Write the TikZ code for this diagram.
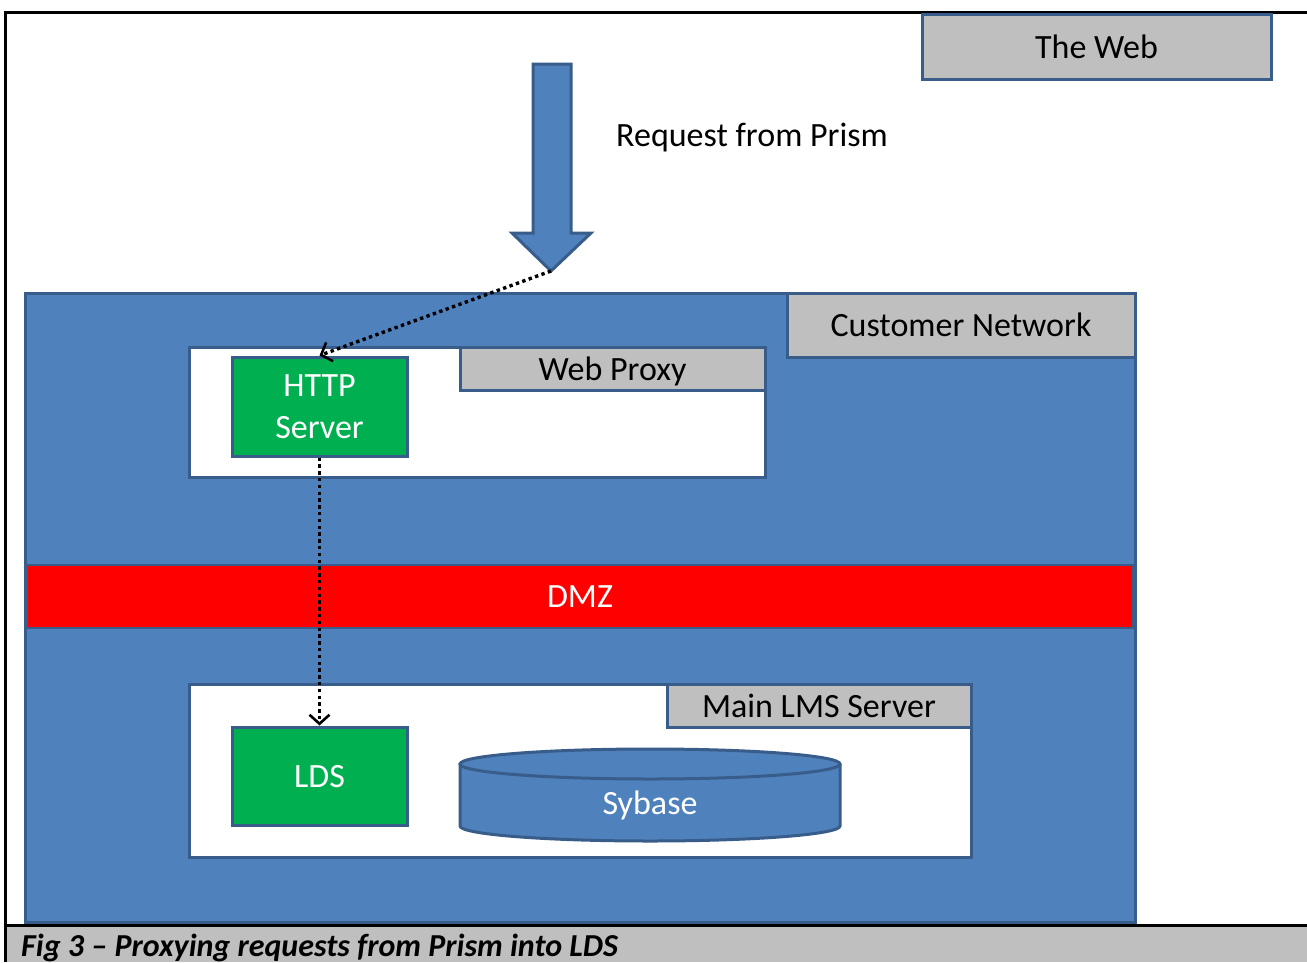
\documentclass[tikz,border=0pt]{standalone}
\usepackage{fontspec}
\setmainfont{Carlito}
\usetikzlibrary{arrows.meta}
\definecolor{bfill}{HTML}{4F81BD}
\definecolor{bline}{HTML}{385D8A}
\definecolor{gfill}{HTML}{BFBFBF}
\definecolor{grn}{HTML}{00B050}
\definecolor{dmzred}{HTML}{FF0000}
\begin{document}
\begin{tikzpicture}[x=1pt,y=-1pt,
  txt/.style={font=\fontsize{34}{42}\selectfont},
  box/.style={draw=bline, line width=3pt, inner sep=0pt, align=center, txt, text depth=0pt},
  graybox/.style={box, fill=gfill, text=black},
  whitebox/.style={box, fill=white},
  greenbox/.style={box, fill=grn, text=white},
  bluebox/.style={box, fill=bfill, text=white},
  flow/.style={draw=black, line width=3.4pt, dash pattern=on 3.4pt off 3.4pt,
     -{Straight Barb[length=9pt,width=20pt,line width=2.6pt]}},
  frame/.style={line width=3pt, draw=black}
]
\useasboundingbox (0,0) rectangle (1307,962);
% caption band
\fill[gfill] (5,925) rectangle (1307,962);
\node[anchor=west, inner sep=0pt, font=\bfseries\itshape\fontsize{32}{36}\selectfont] (cap) at (21,948) {Fig 3 – Proxying requests from Prism into LDS};
% frame
\draw[frame] (1307,12) -- (5,12) -- (5,962);
\draw[frame] (5,925) -- (1307,925);

% the web
\node[graybox, minimum width=349, minimum height=65] (web) at (1096.5,46.5) {The Web};

% big arrow
\filldraw[fill=bfill, draw=bline, line width=3pt, line join=miter]
  (533,64) -- (571,64) -- (571,233) -- (591,233) -- (551,271) -- (512,233) -- (533,233) -- cycle;
\coordinate (tip) at (551,271);
\node[anchor=west, inner sep=0pt, txt] (req) at (616,138) {Request from Prism};

% customer network
\node[bluebox, minimum width=1110, minimum height=629] (cust) at (580,607.5) {};
\node[graybox, minimum width=348, minimum height=64] (custlbl) at (961,325) {Customer Network};

% web proxy
\node[whitebox, minimum width=576, minimum height=130] (proxy) at (477,412) {};
\node[graybox, minimum width=305, minimum height=43] (proxylbl) at (612.5,368.5) {Web Proxy};
\node[greenbox, minimum width=175, minimum height=99] (http) at (319.5,406.5) {HTTP\\Server};

% DMZ
\node[box, fill=dmzred, text=white, line width=1.5pt, minimum width=1106, minimum height=63] (dmz) at (580,596.5) {DMZ};

% main LMS server
\node[whitebox, minimum width=782, minimum height=173] (lms) at (580,770.5) {};
\node[graybox, minimum width=304, minimum height=43] (lmslbl) at (819,705.5) {Main LMS Server};
\node[greenbox, minimum width=175, minimum height=98] (lds) at (319.5,776) {LDS};

% Sybase cylinder
\filldraw[fill=bfill, draw=bline, line width=3pt]
  (460,764) -- (460,826) arc[start angle=180, end angle=0, x radius=190, y radius=15] -- (840,764);
\filldraw[fill=bfill, draw=bline, line width=3pt] (650,764) ellipse [x radius=190, y radius=15];
\node[inner sep=0pt, txt, text=white] (sybase) at (650,805) {Sybase};

% connectors
\draw[flow] (tip) -- (http.north);
\draw[flow] (http.south) -- (lds.north);
\end{tikzpicture}
\end{document}
